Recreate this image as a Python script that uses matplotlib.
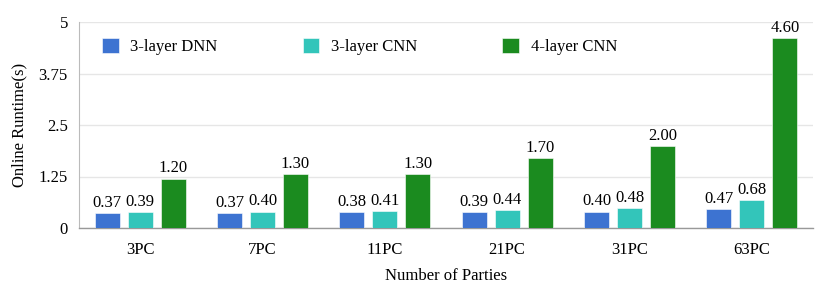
import matplotlib
matplotlib.use("Agg")
import matplotlib.pyplot as plt
import numpy as np

# ---------- data ----------
categories = ["3PC", "7PC", "11PC", "21PC", "31PC", "63PC"]
dnn3 = [0.37, 0.37, 0.38, 0.39, 0.40, 0.47]
cnn3 = [0.39, 0.40, 0.41, 0.44, 0.48, 0.68]
cnn4 = [1.20, 1.30, 1.30, 1.70, 2.00, 4.60]
series = [("3-layer DNN", dnn3, "#3D73D1"),
          ("3-layer CNN", cnn3, "#33C5BA"),
          ("4-layer CNN", cnn4, "#1B8B1F")]
yticks = [0, 1.25, 2.5, 3.75, 5]
ytick_labels = ["0", "1.25", "2.5", "3.75", "5"]

plt.rcParams["font.family"] = ["Liberation Serif", "DejaVu Serif"]
FS = 12

fig = plt.figure(figsize=(8.31, 2.92), dpi=100)
ax = fig.add_axes([79 / 831, 1 - 228 / 292, 734 / 831, 206 / 292])

x = np.arange(len(categories))
width = 0.205
step = 0.27
for i, (label, vals, color) in enumerate(series):
    pos = x + (i - 1) * step
    ax.bar(pos, vals, width, color=color, label=label,
           edgecolor="white", linewidth=0.4, zorder=3)
    for xb, v in zip(pos, vals):
        ax.text(xb, v + 0.05, f"{v:.2f}", ha="center", va="bottom",
                fontsize=FS, color="#000000", zorder=4)

ax.set_xlim(-0.5, len(categories) - 0.5)
ax.set_ylim(0, 5)
ax.set_yticks(yticks)
ax.set_yticklabels(ytick_labels)
ax.set_xticks(x)
ax.set_xticklabels(categories)
ax.tick_params(axis="both", length=0, labelsize=FS, colors="#000000")
ax.tick_params(axis="x", pad=10)
ax.tick_params(axis="y", pad=8)
ax.yaxis.grid(True, color="#e6e6e6", linewidth=1.0, zorder=0)
ax.set_axisbelow(True)
for s in ["top", "right"]:
    ax.spines[s].set_visible(False)
ax.spines["left"].set_color("#bbbbbb")
ax.spines["bottom"].set_color("#999999")
ax.spines["bottom"].set_linewidth(1.0)

ax.set_ylabel("Online Runtime(s)", fontsize=FS, labelpad=8)
ax.set_xlabel("Number of Parties", fontsize=FS, labelpad=7)

leg = ax.legend(loc="upper left", bbox_to_anchor=(0.011, 0.995), ncol=3,
                frameon=False, fontsize=FS, handlelength=1.0, handleheight=1.0,
                columnspacing=5.1, handletextpad=0.7)

fig.savefig("out.png", dpi=100)
